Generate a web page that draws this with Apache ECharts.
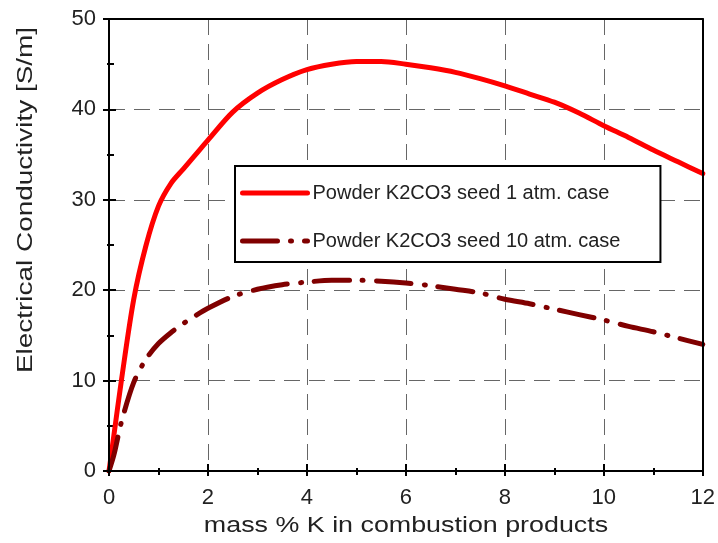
<!DOCTYPE html>
<html>
<head>
<meta charset="utf-8">
<script src="https://cdn.jsdelivr.net/npm/echarts@6/dist/echarts.min.js"></script>
<style>html,body{margin:0;padding:0;background:#fff}#c{width:718px;height:543px}</style>
</head>
<body>
<div id="c"></div>
<script>
const xValues   = [0,0.1,0.25,0.5,0.75,1,1.25,1.5,1.75,2,2.5,3,3.5,4,4.5,5,5.5,6,6.5,7,7.5,8,8.5,9,9.5,10,10.5,11,11.5,12];
const atm1Values  = [0,4,10,19,25,29.3,31.8,33.4,35.0,36.6,39.7,41.8,43.3,44.4,45.0,45.3,45.3,45.0,44.6,44.1,43.4,42.6,41.7,40.8,39.6,38.2,36.9,35.5,34.2,32.9];
const atm10Values = [0,1.8,5.4,9.8,12.4,14.1,15.3,16.3,17.2,18.0,19.3,20.1,20.6,20.9,21.1,21.1,21.0,20.8,20.5,20.1,19.7,19.0,18.5,17.9,17.3,16.7,16.0,15.4,14.7,14.0];
const seriesNames = ['Powder K2CO3 seed 1 atm. case','Powder K2CO3 seed 10 atm. case'];
const xTitle = 'mass % K in combustion products';
const yTitle = 'Electrical Conductivity [S/m]';

const FONT = '"Liberation Sans", Arial, sans-serif';
const chart = echarts.init(document.getElementById('c'));
const pair = (ys) => xValues.map((x,i)=>[x, ys[i]]);

const baseX = {type:'value', min:0, max:12, interval:2, gridIndex:0};
const baseY = {type:'value', min:0, max:50, interval:10, gridIndex:0};

chart.setOption({
  animation:false,
  backgroundColor:'#fff',
  grid:{left:109, right:12, top:19, bottom:72},
  legend:{
    left:235, top:166,
    orient:'vertical',
    padding:[17,40,11,5],
    itemGap:28,
    itemWidth:65, itemHeight:14,
    backgroundColor:'#fff',
    borderColor:'#000', borderWidth:2,
    itemStyle:{opacity:0},
    lineStyle:{width:5},
    textStyle:{fontFamily:FONT, fontSize:20, color:'#222'},
    data:seriesNames
  },
  graphic:[
    {type:'text', x:406, y:526, scaleX:1.22, z:10,
     style:{text:xTitle, font:'22px "Liberation Sans", Arial, sans-serif', fill:'#222',
            textAlign:'center', textVerticalAlign:'middle', align:'center', verticalAlign:'middle'}},
    {type:'text', x:26, y:200, rotation:Math.PI/2, scaleX:1.27, z:10,
     style:{text:yTitle, font:'22px "Liberation Sans", Arial, sans-serif', fill:'#222',
            textAlign:'center', textVerticalAlign:'middle', align:'center', verticalAlign:'middle'}}
  ],
  xAxis:[
    Object.assign({}, baseX, {
      z:5,
      axisLine:{show:true, lineStyle:{color:'#000', width:2}},
      axisTick:{show:true, inside:false, length:5, lineStyle:{color:'#000', width:2}},
      minorTick:{show:true, splitNumber:2, length:4, lineStyle:{color:'#000', width:2}},
      axisLabel:{fontFamily:FONT, fontSize:22, color:'#222', margin:16},
      splitLine:{show:false}
    }),
    Object.assign({}, baseX, {
      z:1, position:'bottom',
      axisLine:{show:false},
      axisTick:{show:true, inside:true, length:7, lineStyle:{color:'#000', width:2}},
      minorTick:{show:true, splitNumber:2, length:3, lineStyle:{color:'#000', width:2}},
      axisLabel:{show:false},
      splitLine:{show:true, lineStyle:{color:'#666', width:1, type:[16,9]}}
    }),
    Object.assign({}, baseX, {
      z:6, position:'top',
      axisLine:{show:true, onZero:false, lineStyle:{color:'#000', width:2}},
      axisTick:{show:false}, axisLabel:{show:false}, splitLine:{show:false}
    })
  ],
  yAxis:[
    Object.assign({}, baseY, {
      z:5,
      axisLine:{show:true, lineStyle:{color:'#000', width:2}},
      axisTick:{show:true, inside:false, length:6, lineStyle:{color:'#000', width:2}},
      minorTick:{show:true, splitNumber:2, length:2, lineStyle:{color:'#000', width:2}},
      axisLabel:{fontFamily:FONT, fontSize:22, color:'#222', margin:13},
      splitLine:{show:false}
    }),
    Object.assign({}, baseY, {
      z:1, position:'left',
      axisLine:{show:false},
      axisTick:{show:true, inside:true, length:7, lineStyle:{color:'#000', width:2}},
      minorTick:{show:true, splitNumber:2, length:5, lineStyle:{color:'#000', width:2}},
      axisLabel:{show:false},
      splitLine:{show:true, lineStyle:{color:'#666', width:1, type:[16,9]}}
    }),
    Object.assign({}, baseY, {
      z:6, position:'right',
      axisLine:{show:true, onZero:false, lineStyle:{color:'#000', width:2}},
      axisTick:{show:false}, axisLabel:{show:false}, splitLine:{show:false}
    })
  ],
  series:[
    {
      name:seriesNames[0], type:'line', xAxisIndex:0, yAxisIndex:0,
      data:pair(atm1Values), smooth:0.3, symbol:'none', z:3,
      color:'#ff0000',
      lineStyle:{color:'#ff0000', width:5, cap:'round', join:'round'}
    },
    {
      name:seriesNames[1], type:'line', xAxisIndex:0, yAxisIndex:0,
      data:pair(atm10Values), smooth:0.3, symbol:'none', z:3,
      color:'#800000',
      lineStyle:{color:'#800000', width:5, type:[35,13,1,13], cap:'round', join:'round'}
    }
  ]
});
</script>
</body>
</html>
